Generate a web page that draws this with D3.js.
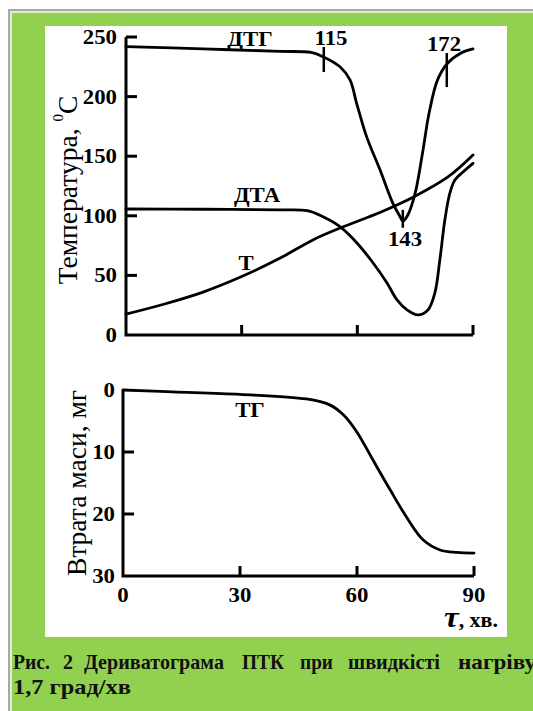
<!DOCTYPE html>
<html><head><meta charset="utf-8">
<script src="https://cdn.jsdelivr.net/npm/d3@7"></script>
<style>html,body{margin:0;padding:0;background:#fff;overflow:hidden}</style>
</head><body>
<script>
// ---- data (time in minutes) ----
const dtgT = [0, 20, 40, 48, 51.1, 55.5, 58.1, 59.8, 62.4, 65.9, 69.2, 71.1, 71.8, 73.1, 75.0, 76.9, 78.6, 80.8, 83.4, 86.9, 90];
const dtgV = [242, 240, 238, 237, 233.5, 225, 214, 194.6, 166.4, 138.4, 110.7, 99.2, 95.6, 100.7, 119, 152.5, 186, 214, 228, 236.6, 240];
const dtaT = [0, 20, 40, 47, 51.1, 55.5, 59.9, 64.1, 67.7, 70.3, 72.9, 75.7, 78.3, 80.1, 81.4, 82.7, 84, 85.3, 87.4, 90];
const dtaV = [105.7, 105.5, 105, 104.3, 99.2, 90.9, 77.2, 60.4, 43.6, 29.4, 21, 16.8, 21, 35.2, 63, 96.5, 119, 130, 136.7, 144];
const tT = [0, 10, 20, 30, 40, 48.6, 56.5, 66, 74.7, 83.5, 90];
const tV = [17.5, 26, 36, 49, 64.5, 80, 91, 103, 116, 132.6, 151];
const tgT = [0, 12.8, 30, 47, 53, 56.5, 60, 64.1, 68.5, 72.8, 77, 81.3, 85.6, 90];
const tgM = [0, 0.3, 0.7, 1.45, 2.4, 4, 6.8, 11.3, 16.1, 20.6, 24.2, 25.8, 26.2, 26.3];
const tempTicks = [50, 100, 150, 200, 250];
const tempTickLabels = ["0", "50", "100", "150", "200", "250"];
const massTicks = [10, 20];
const massTickLabels = ["0", "10", "20", "30"];
const timeTicks = [30, 60, 90];
const timeTickLabels = ["0", "30", "60", "90"];
// markers: time, from value, to value, label
const markerT = [51.3, 71.8, 83.2];
const markerFrom = [241.6, 105, 236.6];
const markerTo = [220.6, 90, 208];
const markerLabels = ["115", "143", "172"];
const captionWords = ["Рис.", "2", "Дериватограма", "ПТК", "при", "швидкісті", "нагріву"];

const W = 533, H = 711;
const svg = d3.select("body").append("svg").attr("width", W).attr("height", H);
const serif = "'Liberation Serif','Times New Roman',serif";

// frame
svg.append("rect").attr("x", 8).attr("y", 9).attr("width", W).attr("height", H).attr("fill", "#a9a9a9");
svg.append("rect").attr("x", 10).attr("y", 11).attr("width", W).attr("height", H).attr("fill", "#dfeecf");
svg.append("rect").attr("x", 12).attr("y", 13).attr("width", W).attr("height", H).attr("fill", "#92d050");
svg.append("rect").attr("x", 45).attr("y", 26).attr("width", 462).attr("height", 611).attr("fill", "#fff");

// scales
const xTop = d3.scaleLinear().domain([0, 90]).range([126, 473]);
const yTop = d3.scaleLinear().domain([0, 250]).range([335, 37]);
const xBot = d3.scaleLinear().domain([0, 90]).range([123, 474]);
const yBot = d3.scaleLinear().domain([0, 30]).range([390, 576]);

const ink = "#000";
const lw = 2.8;

// horizontally stretched text helper
function htext(x, y, s, size, anchor, weight, sx) {
  return svg.append("text").attr("transform", `translate(${x},${y}) scale(${sx || 1.14},1)`)
    .attr("text-anchor", anchor || "middle").attr("font-family", serif)
    .attr("font-weight", weight || "bold").attr("font-size", size).text(s);
}

// top axes
const gTop = svg.append("g");
gTop.append("path").attr("d", `M${xTop(0)},${yTop(250)}V${yTop(0)}H${xTop(90)}`)
  .attr("fill", "none").attr("stroke", ink).attr("stroke-width", 3);
tempTicks.forEach(v => gTop.append("line").attr("x1", xTop(0)).attr("x2", xTop(0) + 11)
  .attr("y1", yTop(v)).attr("y2", yTop(v)).attr("stroke", ink).attr("stroke-width", 3));
timeTicks.forEach(t => gTop.append("line").attr("x1", xTop(t)).attr("x2", xTop(t))
  .attr("y1", yTop(0)).attr("y2", yTop(0) - 10).attr("stroke", ink).attr("stroke-width", 3));
tempTickLabels.forEach((s, i) => htext(117, yTop(i * 50) + 7, s, 20, "end"));

// bottom axes
const gBot = svg.append("g");
gBot.append("path").attr("d", `M${xBot(0)},${yBot(0)}V${yBot(30)}H${xBot(90)}`)
  .attr("fill", "none").attr("stroke", ink).attr("stroke-width", 3);
massTicks.forEach(v => gBot.append("line").attr("x1", xBot(0)).attr("x2", xBot(0) + 11)
  .attr("y1", yBot(v)).attr("y2", yBot(v)).attr("stroke", ink).attr("stroke-width", 3));
timeTicks.forEach(t => gBot.append("line").attr("x1", xBot(t)).attr("x2", xBot(t))
  .attr("y1", yBot(30)).attr("y2", yBot(30) - 10).attr("stroke", ink).attr("stroke-width", 3));
massTickLabels.forEach((s, i) => htext(115, yBot(i * 10) + 7, s, 20, "end"));
timeTickLabels.forEach((s, i) => htext(xBot(i * 30), 602, s, 20, "middle"));

// axis titles
const t1 = svg.append("text").attr("transform", "translate(77,190) rotate(-90)")
  .attr("text-anchor", "middle").attr("font-family", serif).attr("font-size", 27.5);
t1.append("tspan").text("Температура, ");
t1.append("tspan").attr("font-size", 15).attr("dy", -14).text("0");
t1.append("tspan").attr("dy", 14).text("С");
svg.append("text").attr("transform", "translate(86,483) rotate(-90)")
  .attr("text-anchor", "middle").attr("font-family", serif).attr("font-size", 27.5)
  .text("Втрата маси, мг");
const tau = svg.append("text").attr("transform", "translate(498,627) scale(1.1,1)").attr("text-anchor", "end")
  .attr("font-family", serif).attr("font-weight", "bold");
tau.append("tspan").attr("font-style", "italic").attr("font-size", 30).text("τ");
tau.append("tspan").attr("font-size", 20).text(", хв.");

// curves
const lineTop = d3.line().x(d => xTop(d[0])).y(d => yTop(d[1])).curve(d3.curveCatmullRom.alpha(0.5));
const lineBot = d3.line().x(d => xBot(d[0])).y(d => yBot(d[1])).curve(d3.curveCatmullRom.alpha(0.5));
const curve = (g, gen, xs, ys) => g.append("path").datum(xs.map((x, i) => [x, ys[i]]))
  .attr("d", gen).attr("fill", "none").attr("stroke", ink).attr("stroke-width", lw)
  .attr("stroke-linejoin", "round").attr("stroke-linecap", "round");
curve(gTop, lineTop, dtgT, dtgV);
curve(gTop, lineTop, dtaT, dtaV);
curve(gTop, lineTop, tT, tV);
curve(gBot, lineBot, tgT, tgM);

// markers
markerT.forEach((t, i) => gTop.append("line").attr("x1", xTop(t)).attr("x2", xTop(t))
  .attr("y1", yTop(markerFrom[i])).attr("y2", yTop(markerTo[i])).attr("stroke", ink).attr("stroke-width", 2.5));

// labels
htext(250, 46, "ДТГ", 20);
htext(331, 45, markerLabels[0], 20);
htext(405, 246, markerLabels[1], 20);
htext(444, 51, markerLabels[2], 20);
htext(257, 202, "ДТА", 20);
htext(246, 270, "Т", 20);
htext(250, 417, "ТГ", 20);

// caption: justified first line, each word fitted to its span
const capX = [13, 63, 84, 242, 300, 348, 458];
const capW = [37, 10, 140, 42, 33, 92, 78];
captionWords.forEach((w, i) => svg.append("text").attr("x", capX[i]).attr("y", 669)
  .attr("font-family", serif).attr("font-weight", "bold").attr("font-size", 21).attr("fill", "#111")
  .attr("textLength", capW[i]).attr("lengthAdjust", "spacingAndGlyphs").text(w));
svg.append("text").attr("x", 13).attr("y", 694).attr("font-family", serif)
  .attr("font-weight", "bold").attr("font-size", 21).attr("fill", "#111")
  .attr("textLength", 118).attr("lengthAdjust", "spacingAndGlyphs").text("1,7 град/хв");
</script>
</body></html>
